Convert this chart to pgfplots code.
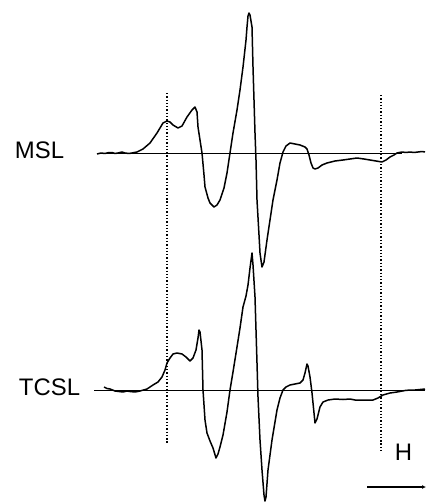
\documentclass[border=0pt]{standalone}
\usepackage{pgfplots}
\pgfplotsset{compat=1.18}
\usepackage{fontspec}
\setmainfont{Liberation Sans}
\usetikzlibrary{arrows.meta}
\begin{document}
\begin{tikzpicture}
\begin{axis}[
  width=426bp, height=504bp, scale only axis,
  xmin=0, xmax=426, ymin=0, ymax=504, y dir=reverse,
  hide axis, clip=false,
]
\path (rel axis cs:0,0) rectangle (rel axis cs:1,1);
% baselines
\addplot[black, line width=1pt] coordinates {(97,153) (402,153)};
\addplot[black, line width=1pt] coordinates {(94,390.5) (425,390.5)};
% dotted markers
\addplot[black, line width=1.5pt, dash pattern=on 1.3pt off 2pt] coordinates {(167,93) (167,443)};
\addplot[black, line width=1.5pt, dash pattern=on 1.3pt off 2pt] coordinates {(381,95) (381,452)};
% MSL spectrum
\addplot[black, line width=1.5pt, line join=round] coordinates {
(97,154) (101,153) (105,153.5) (109,152.5) (112,152.5) (115,153.5) (118,153) (122,152) (125,153) (129,153.5) (132,153) (137,152) (143,149) (150,143) (157,133) (163,123) (167,121) (170,122) (173,125) (178,128) (182,126) (187,117) (192,110) (195,107) (197,112) (198,127) (200,140) (202,153) (204,175) (205,187) (208,198) (210,203) (214,207) (217,205) (220,200) (224,188) (227,173) (230,153) (233,133) (237,110) (240,90) (243,67) (246,40) (247,27) (248,16) (249,13) (250,15) (252,27) (253,67) (254,100) (255,133) (256,160) (257,200) (259,235) (260,253) (262,267) (264,262) (267,240) (270,220) (273,200) (277,180) (280,163) (283,152) (286,146) (290,143) (295,144) (300,145) (305,147) (307,149) (309,155) (311,163) (313,168) (315,169) (318,168) (322,165) (327,163) (335,161) (343,160) (350,159) (357,158) (364,159) (370,160) (376,161) (382,162) (386,160) (390,157) (394,155) (397,153) (402,152) (406,152.5) (410,152) (414,152.5) (418,152) (422,151.5) (425,152)
};
% TCSL spectrum
\addplot[black, line width=1.5pt, line join=round] coordinates {
(104,387) (107,388.5) (110,389) (115,391) (119,391.5) (123,392) (127,391) (130,391.5) (135,392) (140,391) (147,389) (153,385) (158,382) (162,377) (165,370) (167,363) (170,358) (173,354) (177,353) (182,354) (186,357) (190,361) (193,358) (196,350) (198,338) (199,330) (200,332) (202,350) (203,390) (205,420) (207,433) (210,441) (213,448) (216,458) (218,454) (220,447) (223,435) (227,412) (230,390) (233,372) (237,347) (240,328) (243,307) (246,296) (248,285) (250,268) (252,253) (253,265) (255,297) (257,363) (258,397) (260,440) (262,470) (264,495) (265,501) (266,497) (268,470) (272,440) (277,410) (280,398) (283,390) (286,387) (290,385) (295,384) (300,383) (303,380) (305,373) (307,364) (308,366) (310,377) (312,393) (313,403) (315,423) (317,419) (320,407) (323,402) (328,400) (335,399) (343,399.5) (350,399) (355,400) (365,400) (373,400) (378,398) (383,395) (390,393) (397,392) (405,390.5) (410,390) (415,390) (420,389.5) (425,389)
};
% field arrow
\addplot[black, line width=1.1pt, -{Latex[length=4pt,width=4pt]}] coordinates {(367,487) (426,487)};
\node[font=\fontsize{24}{28}\selectfont, anchor=center] at (axis cs:39.5,150) {MSL};
\node[font=\fontsize{24}{28}\selectfont, anchor=center] at (axis cs:49.5,387.5) {TCSL};
\node[font=\fontsize{24}{28}\selectfont, anchor=center] at (axis cs:403.5,452) {H};
\end{axis}
\end{tikzpicture}
\end{document}
